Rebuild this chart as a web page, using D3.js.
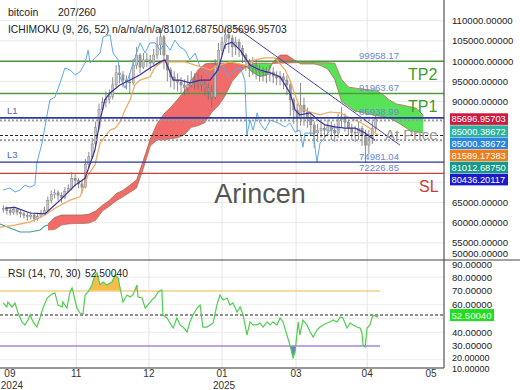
<!DOCTYPE html>
<html><head><meta charset="utf-8">
<script src="https://cdn.jsdelivr.net/npm/d3@7"></script>
<style>
body{margin:0;background:#fff}
text{font-family:"Liberation Sans",Arial,sans-serif}
</style>
</head><body>
<svg id="c" width="520" height="390"></svg>
<script>
// ---------------- DATA (prices in thousands of USD) ----------------
const firstOpen = 63.3;
const closes = [63.5,63.0,62.5,63.2,62.6,62.2,61.8,61.5,61.9,61.0,
61.6,62.4,63.0,65.5,67.0,67.4,66.8,66.2,67.8,68.5,
71.0,70.4,69.6,68.8,74.5,76.3,79.5,83.5,88.0,89.8,
90.5,91.3,94.1,97.1,96.6,95.3,94.8,94.6,99.0,101.5,
98.5,100.3,100.3,99.5,101.5,104.0,106.0,101.5,97.8,96.1,
95.3,94.8,94.1,93.4,94.1,95.3,94.6,94.8,94.1,93.4,
92.4,91.1,99.0,102.7,104.7,106.5,105.7,103.5,104.7,103.2,
101.5,99.8,98.3,99.0,97.8,97.3,97.1,96.6,97.3,96.3,
95.8,96.1,95.3,94.1,90.4,87.9,85.9,89.1,87.4,85.9,
84.2,82.2,82.9,83.4,82.9,83.7,82.9,82.2,85.4,86.2,
84.9,83.4,82.4,82.2,83.4,81.7,79.2,81.0,83.4,85.697];
const highs = [64.3,64.0,63.6,64.0,63.5,63.2,62.8,62.5,62.8,62.4,
62.5,63.2,64.0,66.5,68.0,68.3,68.0,67.5,68.8,69.5,
72.5,72.0,71.0,70.5,75.8,77.5,81.0,85.0,89.5,91.0,
92.5,93.0,96.0,99.0,99.0,97.5,96.5,97.0,100.5,103.5,
102.0,102.0,102.0,101.5,103.0,106.0,108.2,106.5,101.0,98.5,
97.5,97.0,96.0,95.5,96.5,97.5,97.0,97.0,96.5,95.5,
94.5,94.0,100.5,104.5,106.0,108.3,108.0,106.5,106.0,105.5,
104.0,102.0,100.5,101.0,100.5,99.0,98.5,98.5,99.0,98.5,
97.5,97.5,97.0,96.5,95.0,91.0,89.5,94.6,91.0,88.5,
87.0,85.0,84.5,85.0,84.5,85.5,85.0,84.5,87.0,88.6,
87.0,85.5,84.5,84.0,85.0,84.0,83.0,83.0,85.0,86.5];
const lows = [62.5,62.0,61.8,62.0,61.8,61.3,61.0,60.5,60.8,60.2,
60.5,61.2,62.2,63.0,64.8,66.0,65.5,65.0,65.8,67.5,
68.0,69.0,68.5,67.2,68.5,73.5,75.8,79.0,83.0,87.5,
88.5,89.5,90.5,93.5,94.5,93.5,93.0,92.0,94.0,98.0,
97.0,98.0,98.5,97.5,99.0,100.5,101.5,98.0,95.0,93.5,
93.0,92.5,92.0,91.5,92.5,93.5,93.0,93.0,92.5,91.5,
90.5,88.5,90.5,98.5,101.5,103.0,102.0,101.0,101.5,101.0,
99.5,97.5,96.0,96.5,95.5,95.0,95.0,94.5,95.0,94.5,
94.0,94.0,93.0,91.5,86.5,84.5,82.5,84.0,84.0,83.5,
81.5,78.5,80.0,81.0,81.0,81.5,80.5,80.0,81.0,83.5,
82.5,81.5,80.5,80.0,80.5,79.0,74.8,77.0,79.5,82.5];

const tenkan = [[1.5,63.6],[4.4,63.8],[8.8,62.4],[13.2,62.2],[17.6,65.6],[22,69.3],[24.9,71.0],[27.8,78.0],[29.3,85.4],[30.7,90.4],[32.2,92.1],[35.1,94.1],[38.1,95.3],[41,96.6],[43.9,98.3],[46.9,99.8],[48.3,100.3],[50.7,95.3],[52.7,95.3],[55.6,94.6],[58.6,95.3],[61.5,95.3],[63.8,97.8],[65.9,104],[67.9,104.7],[70.3,102.7],[73.2,99.0],[76.1,97.8],[79.1,97.1],[82,96.1],[84.9,92.1],[86.4,87.9],[87.8,86.7],[90.8,87.2],[93.1,85.4],[95.2,84.2],[98.1,83.7],[101,83.4],[104,83.4],[106.9,82.2],[109.8,80.436]];
const kijun = [[0,58.9],[4.4,59.4],[8.8,60.2],[13.2,61.9],[16.1,63.6],[20.5,65.6],[23.4,66.4],[25.8,71.8],[27.8,74.3],[29.3,79.7],[32.2,82.9],[33.7,83.4],[35.1,84.9],[36.6,87.9],[38.1,90.4],[39.5,94.1],[41,95.3],[43.9,96.1],[45.4,98.5],[47.4,99.8],[54.2,99.8],[57.1,99.0],[60,98.3],[61.5,97.8],[63,98.5],[64.4,99.0],[67.3,99.8],[71.7,99.0],[74.7,100.3],[77.6,100.8],[80.5,100.8],[83.5,97.8],[84.9,95.3],[86.4,91.6],[87.8,88.4],[90.8,87.4],[93.7,86.7],[96.6,87.4],[99.6,87.2],[102.5,85.9],[105.4,84.9],[108.3,83.4],[110.7,81.589]];
const chikou = [[0.9,68.1],[2.9,68.6],[4.4,67.6],[5.9,68.1],[7.3,69.3],[8.8,68.8],[10.2,69.3],[10.8,74.8],[12.3,79.7],[13.8,86.7],[14.6,90.4],[16.1,91.1],[17.6,94.6],[19,98.3],[20.5,97.8],[22,96.6],[23.4,97.3],[24.9,99.5],[25.8,102.7],[26.4,99.5],[27.8,100.8],[29.3,102],[30.2,106],[32.2,106.5],[33.1,102],[34.6,100.3],[35.1,96.1],[36.6,93.3],[39.5,100.8],[41,104.5],[42.5,102],[43.9,104.5],[45.4,104.5],[46.9,102.7],[48.3,104.5],[49.8,102.7],[51.2,105.2],[52.7,103.5],[54.2,102.7],[55.6,100.3],[57.1,102],[58.6,98.5],[60,97.3],[62.4,96.1],[63.8,97.1],[65,99.5],[66.8,96.1],[68.8,97.8],[70.3,98.5],[71.7,95.3],[72.3,81.7],[73.2,85.4],[74.1,82.9],[75.3,87.2],[76.1,84.7],[77.6,82.9],[79.1,85.4],[81.4,84.7],[83.5,83.7],[84.9,84.7],[86.4,82.4],[87.8,82.9],[88.7,78.7],[89.3,82.2],[91.7,82.2],[92.8,75.0],[93.7,79.7],[95.2,81.2],[96.6,82.9],[98.1,83.7],[99.6,82.9]];
const leadLine = [[0,59.7],[2.9,58.7],[5.9,57.7],[8.8,57.7],[11.7,58.2],[13.2,59.2],[14,59.4]];

const cloudStart = 14, cloudStep = 2;
const spanA = [58.2,58.3,59.4,59.7,59.8,59.8,59.9,60.6,62.9,64.1,65.4,66.4,67.5,68.6,73.5,79.0,80.5,80.5,80.8,81.0,81.8,83.6,84.0,84.8,87.3,89.0,91.5,95.0,97.0,98.6,99.4,99.5,99.5,99.4,99.5,99.5,99.6,99.65,99.65,99.65,99.6,99.6,99.5,95.5,93.6,93.3,93.1,92.9,92.8,91.8,90.4,89.4,89.1,88.7,88.3,86.5];
const spanB = [59.6,61.3,61.9,61.9,61.9,61.9,62.1,62.9,64.3,65.5,67.2,68.0,69.3,70.6,75.5,80.7,84.5,86.9,88.6,90.5,92.6,95.2,97.8,99.3,99.5,99.5,99.5,99.5,99.3,98.7,97.2,96.2,96.5,99.8,101.5,101.5,100.4,99.3,99.3,99.3,98.9,98.0,95.5,90.0,88.8,87.6,87.3,86.9,86.5,86.3,85.9,85.0,84.0,82.8,82.5,82.2];

const trendIdx = [68.2,117.1], trendVal = [108.9,79.2];

const levelNames  = ["TP2","TP1","L1","L3","SL"];
const levelValues = [99.95817, 91.96367, 85.93899, 74.98104, 72.22685];
const levelLabels = ["99958.17","91963.67","85938.99","74981.04","72226.85"];
const currentPrice = 85.69696, kijunLast = 81.58917, tenkanLast = 80.43620;

const seriesLast = [85696.95703, 85000.38672, 85000.38672, 81589.17383, 81012.68750, 80436.20117];
const seriesLastLabels = ["85696.95703","85000.38672","85000.38672","81589.17383","81012.68750","80436.20117"];

const priceTicks = [50,55,60,65,70,75,80,85,90,95,100,105,110];
const rsiTicks = [10,20,30,40,50,60,70,80,90];

const tickIdx = [2.9,22.3,43.6,65.0,86.7,107.5,126.2];
const tickLabels = ["09","11","12","01","03","04","05"];
const yearLabels = ["2024","","","2025","","",""];

const rsi = [[0.9,61.3],[2.0,58.4],[2.3,62.0],[3.5,58.4],[4.4,61.3],[5.3,54.0],[6.4,47.5],[7.3,45.3],[8.2,48.9],[8.8,52.5],[9.7,47.5],[10.8,43.8],[11.7,50.4],[12.6,57.6],[13.8,64.9],[15.2,67.8],[16.1,68.5],[17,59.8],[18.2,58.4],[18.4,62.0],[19.6,57.6],[20.5,69.3],[21.1,72.2],[21.4,69.3],[22.5,57.6],[23.4,54.0],[24.3,53.3],[24.9,67.1],[25.8,69.3],[26.9,74.4],[27.8,81.6],[28.4,83.1],[29.3,74.4],[30.2,76.5],[31.3,74.4],[32.8,76.5],[33.7,81.6],[34.6,79.5],[35.1,72.9],[36,62.0],[37.2,67.1],[38.1,65.6],[38.9,67.1],[40.1,74.4],[40.4,65.6],[41.6,64.9],[42.5,57.6],[43.3,59.8],[44.5,63.5],[45.4,65.6],[46.3,69.3],[47.4,70.7],[47.7,52.5],[48.9,50.4],[49.8,46.7],[50.7,43.1],[51.8,50.4],[52.7,45.3],[53.6,43.8],[54.8,40.2],[55.6,47.5],[56.5,52.5],[57.7,57.6],[58.6,59.8],[59.4,43.8],[60.6,43.8],[61.5,45.3],[62.4,46.7],[63.5,59.8],[64.4,67.1],[65.3,63.5],[66.5,64.9],[67.3,59.8],[68.2,61.3],[69.4,54.7],[70.3,58.4],[71.2,52.5],[72.3,38.0],[73.2,47.5],[74.1,45.3],[75.3,45.3],[76.1,46.7],[77,43.8],[78.2,47.5],[79.1,45.3],[79.9,47.5],[81.1,45.3],[82,50.4],[82.9,47.5],[84,38.0],[84.9,30.7],[85.8,21.3],[86.4,25.6],[87.3,47.5],[87.8,38.0],[88.7,48.9],[89.9,45.3],[90.8,40.2],[91.7,36.5],[92.8,41.6],[93.7,43.8],[94.6,45.3],[95.8,46.7],[96.6,47.5],[97.5,48.9],[98.7,47.5],[99.6,51.1],[100.4,50.4],[101.6,43.1],[102.5,46.7],[103.4,45.3],[104.5,43.8],[105.4,43.1],[106,39.5],[106.3,30.7],[106.9,29.3],[107.5,43.1],[108.3,45.3],[109.2,52.5],[110.4,51.1],[110.7,52.5004]];
const rsiLast = 52.50040, rsiUpper = 70, rsiLower = 30, rsiEnd = 110.7;

// ---------------- CHART ----------------
const svg = d3.select("#c");
const W = 444, H1 = 260, H2 = 368;
const x = d3.scaleLinear().domain([0,130]).range([0,W]);
const y = d3.scaleLinear().domain([50.767,115.124]).range([H1,0]);
const yr = d3.scaleLinear().domain([14,92.545]).range([H2,H1]);

const defs = svg.append("defs");
defs.append("clipPath").attr("id","mainClip").append("rect").attr("x",0).attr("y",0).attr("width",W).attr("height",H1);
defs.append("clipPath").attr("id","rsiClip").append("rect").attr("x",0).attr("y",H1).attr("width",W).attr("height",H2-H1);

const cloud = spanA.map((a,k)=>({i:cloudStart+k*cloudStep,a:a,b:spanB[k]}));
defs.append("clipPath").attr("id","aboveA").append("path")
  .attr("d", d3.area().x(d=>x(d.i)).y0(d=>y(d.a)).y1(0)(cloud));
defs.append("clipPath").attr("id","belowA").append("path")
  .attr("d", d3.area().x(d=>x(d.i)).y0(d=>y(d.a)).y1(H1)(cloud));

// grid
const grid = svg.append("g");
grid.selectAll(".hg").data(priceTicks.filter(v=>v>50)).join("line")
  .attr("x1",0).attr("x2",W).attr("y1",d=>y(d)).attr("y2",d=>y(d))
  .attr("stroke","#e9e9e9").attr("stroke-width",1);
grid.selectAll(".rg").data([20,40,50,60,80]).join("line")
  .attr("x1",0).attr("x2",W).attr("y1",d=>yr(d)).attr("y2",d=>yr(d))
  .attr("stroke","#ececec").attr("stroke-width",1);
grid.selectAll(".vg").data(tickIdx.slice(1,6)).join("line")
  .attr("x1",d=>x(d)).attr("x2",d=>x(d)).attr("y1",0).attr("y2",H2)
  .attr("stroke","#e6e6e6").attr("stroke-width",1);

const main = svg.append("g").attr("clip-path","url(#mainClip)");

// cloud
const between = d3.area().x(d=>x(d.i)).y0(d=>y(d.a)).y1(d=>y(d.b));
main.append("path").attr("d",between(cloud)).attr("fill","#f26b6b").attr("clip-path","url(#aboveA)");
main.append("path").attr("d",between(cloud)).attr("fill","#58e258").attr("clip-path","url(#belowA)");
main.append("path").attr("d",d3.line().x(d=>x(d.i)).y(d=>y(d.a))(cloud)).attr("fill","none").attr("stroke","#b86a5a").attr("stroke-width",0.8);
main.append("path").attr("d",d3.line().x(d=>x(d.i)).y(d=>y(d.b))(cloud)).attr("fill","none").attr("stroke","#a0704a").attr("stroke-width",0.8);

const pline = d3.line().x(d=>x(d[0])).y(d=>y(d[1]));
main.append("path").attr("d",pline(leadLine)).attr("fill","none").attr("stroke","#3f9e8e").attr("stroke-width",1.1);

// green TP lines
main.selectAll(".tp").data([0,1]).join("line")
  .attr("x1",0).attr("x2",W).attr("y1",k=>y(levelValues[k])).attr("y2",k=>y(levelValues[k]))
  .attr("stroke","#4f9a3e").attr("stroke-width",1.4);

// candles
const candles = closes.map((c,k)=>({i:k+1,o:k===0?firstOpen:closes[k-1],c:c,h:highs[k],l:lows[k]}));
const cg = main.append("g");
cg.selectAll(".w").data(candles).join("line")
  .attr("x1",d=>x(d.i)).attr("x2",d=>x(d.i)).attr("y1",d=>y(d.h)).attr("y2",d=>y(d.l))
  .attr("stroke","#6e6e6e").attr("stroke-width",0.8);
cg.selectAll(".b").data(candles).join("rect")
  .attr("x",d=>x(d.i)-1.1).attr("width",2.2)
  .attr("y",d=>y(Math.max(d.o,d.c))).attr("height",d=>Math.max(0.8,Math.abs(y(d.o)-y(d.c))))
  .attr("fill",d=>d.c>=d.o?"#c4c4c4":"#9a9a9a").attr("stroke","#777").attr("stroke-width",0.4);

// indicator lines
main.append("path").attr("d",pline(chikou)).attr("fill","none").attr("stroke","#5fa8e6").attr("stroke-width",1);
main.append("path").attr("d",pline(kijun)).attr("fill","none").attr("stroke","#f0a75e").attr("stroke-width",1.2);
main.append("path").attr("d",pline(tenkan)).attr("fill","none").attr("stroke","#3b2f9e").attr("stroke-width",1.2);

// L1, L3, SL, price lines
main.append("line").attr("x1",0).attr("x2",W).attr("y1",y(levelValues[2])).attr("y2",y(levelValues[2])).attr("stroke","#2d3a9e").attr("stroke-width",1.6);
main.append("line").attr("x1",0).attr("x2",W).attr("y1",y(currentPrice)+1.5).attr("y2",y(currentPrice)+1.5).attr("stroke","#9a9a9a").attr("stroke-width",1.6).attr("stroke-dasharray","2,2");
main.append("line").attr("x1",0).attr("x2",W).attr("y1",y(kijunLast)).attr("y2",y(kijunLast)).attr("stroke","#222").attr("stroke-width",1.2).attr("stroke-dasharray","3,2");
main.append("line").attr("x1",0).attr("x2",W).attr("y1",y(tenkanLast)).attr("y2",y(tenkanLast)).attr("stroke","#999").attr("stroke-width",1.8).attr("stroke-dasharray","2,2");
main.append("line").attr("x1",0).attr("x2",W).attr("y1",y(levelValues[3])).attr("y2",y(levelValues[3])).attr("stroke","#2d3a9e").attr("stroke-width",1.2);
main.append("line").attr("x1",0).attr("x2",W).attr("y1",y(levelValues[4])).attr("y2",y(levelValues[4])).attr("stroke","#d0403a").attr("stroke-width",1.2);

// diagonal trend line
main.append("line").attr("x1",x(trendIdx[0])).attr("y1",y(trendVal[0])).attr("x2",x(trendIdx[1])).attr("y2",y(trendVal[1]))
  .attr("stroke","#4a44a8").attr("stroke-width",1);

// texts in main panel
main.append("text").attr("x",260).attr("y",203).attr("text-anchor","middle").attr("font-size",27).attr("fill","#555").text("Arincen");
main.append("text").attr("x",385).attr("y",140).attr("font-size",15).attr("fill","#999").text("At Price");
main.selectAll(".lv").data([0,1,2,3,4]).join("text")
  .attr("x",359).attr("y",k=>y(levelValues[k])-2.5).attr("font-size",9.6).attr("fill","#6a88d8").text(k=>levelLabels[k]);
main.selectAll(".big").data([0,1,4]).join("text")
  .attr("x",k=>k===4?419:408).attr("y",k=>y(levelValues[k])+18.5).attr("font-size",16)
  .attr("fill",k=>k===4?"#d03a35":"#3f9a2e").text(k=>levelNames[k]);
main.selectAll(".sm").data([2,3]).join("text")
  .attr("x",7).attr("y",k=>y(levelValues[k])-4).attr("font-size",9.5).attr("fill","#4a6ab8").text(k=>levelNames[k]);

svg.append("text").attr("x",8).attr("y",16).attr("font-size",10.5).attr("fill","#222").text("bitcoin");
svg.append("text").attr("x",58).attr("y",16).attr("font-size",10.5).attr("fill","#222").text("207/260");
svg.append("text").attr("x",8).attr("y",33).attr("font-size",10.3).attr("fill","#222").text("ICHIMOKU (9, 26, 52)");
svg.append("text").attr("x",112).attr("y",33).attr("font-size",10.3).attr("fill","#222").text("n/a/n/a/n/a/81012.68750/85696.95703");

// RSI panel
const rg = svg.append("g").attr("clip-path","url(#rsiClip)");
defs.append("clipPath").attr("id","rsiTop").append("rect").attr("x",0).attr("y",H1).attr("width",W).attr("height",yr(rsiUpper)-H1);
defs.append("clipPath").attr("id","rsiBot").append("rect").attr("x",0).attr("y",yr(rsiLower)).attr("width",W).attr("height",H2-yr(rsiLower));
rg.append("path").attr("d",d3.area().x(d=>x(d[0])).y0(yr(rsiUpper)).y1(d=>yr(d[1]))(rsi)).attr("fill","#f7bd4c").attr("clip-path","url(#rsiTop)");
rg.append("path").attr("d",d3.area().x(d=>x(d[0])).y0(yr(rsiLower)).y1(d=>yr(d[1]))(rsi)).attr("fill","#6a86c0").attr("clip-path","url(#rsiBot)");
rg.append("line").attr("x1",0).attr("x2",x(rsiEnd)+2).attr("y1",yr(rsiUpper)).attr("y2",yr(rsiUpper)).attr("stroke","#f4cf86").attr("stroke-width",1.6);
rg.append("line").attr("x1",0).attr("x2",x(rsiEnd)+2).attr("y1",yr(rsiLower)).attr("y2",yr(rsiLower)).attr("stroke","#a983e6").attr("stroke-width",1.6);
rg.append("line").attr("x1",0).attr("x2",W).attr("y1",yr(rsiLast)).attr("y2",yr(rsiLast)).attr("stroke","#222").attr("stroke-width",1.1).attr("stroke-dasharray","3,2");
rg.append("path").attr("d",d3.line().x(d=>x(d[0])).y(d=>yr(d[1]))(rsi)).attr("fill","none").attr("stroke","#4fcf4f").attr("stroke-width",1.2);
svg.append("text").attr("x",8).attr("y",277).attr("font-size",10.3).attr("fill","#222").text("RSI (14, 70, 30)");
svg.append("text").attr("x",85).attr("y",277).attr("font-size",10.3).attr("fill","#222").text(rsiLast.toFixed(5));

// frame lines
svg.append("line").attr("x1",W).attr("x2",W).attr("y1",0).attr("y2",H2).attr("stroke","#333").attr("stroke-width",1);
svg.append("line").attr("x1",0).attr("x2",520).attr("y1",H1).attr("y2",H1).attr("stroke","#444").attr("stroke-width",1);
svg.append("line").attr("x1",0).attr("x2",W).attr("y1",H2).attr("y2",H2).attr("stroke","#333").attr("stroke-width",1);

// right price axis
const boxColors = ["#cf1a40","#2ab39f","#2a86e0","#ee7d1c","#14998a","#1a1ac8"];
const boxTop = y(seriesLast[0]/1000);
const boxY = seriesLast.map((v,k)=>boxTop+k*12.1);
const ax = svg.append("g");
ax.selectAll(".pt").data(priceTicks.filter(v=>{const p=y(v); return !(p>boxTop-9 && p<boxY[5]+9);})).join("text")
  .attr("x",452).attr("y",d=>Math.min(y(d),253)+3.5).attr("font-size",9.6).attr("fill","#222")
  .text(d=>(d*1000).toFixed(5));
ax.selectAll(".pb").data(seriesLast).join("rect")
  .attr("x",450).attr("y",(d,k)=>boxY[k]-5.6).attr("width",58).attr("height",11.6).attr("fill",(d,k)=>boxColors[k]);
ax.selectAll(".pl").data(seriesLastLabels).join("text")
  .attr("x",451.5).attr("y",(d,k)=>boxY[k]+3.6).attr("font-size",9.3).attr("fill","#fff").text(d=>d);
ax.selectAll(".rt").data(rsiTicks.filter(v=>Math.abs(yr(v)-yr(rsiLast))>8)).join("text")
  .attr("x",452).attr("y",d=>d===10?371.5:d===20?361:Math.max(264,yr(d))+3.5)
  .attr("font-size",d=>d<=20?9:9.6).attr("fill","#222")
  .text(d=>d.toFixed(5));
ax.append("rect").attr("x",450).attr("y",yr(rsiLast)-6).attr("width",44).attr("height",12).attr("fill","#1fe01f");
ax.append("text").attr("x",451.5).attr("y",yr(rsiLast)+3.6).attr("font-size",9.6).attr("fill","#fff").text(rsiLast.toFixed(5));

// x axis labels
const xa = svg.append("g");
xa.selectAll(".m").data(tickLabels).join("text")
  .attr("x",(d,k)=>x(tickIdx[k])).attr("y",377).attr("text-anchor","middle").attr("font-size",10).attr("fill","#333").text(d=>d);
xa.selectAll(".yl").data(yearLabels).join("text")
  .attr("x",(d,k)=>x(tickIdx[k])+2).attr("y",389).attr("text-anchor","middle").attr("font-size",10).attr("fill","#333").text(d=>d);
</script>
</body></html>
